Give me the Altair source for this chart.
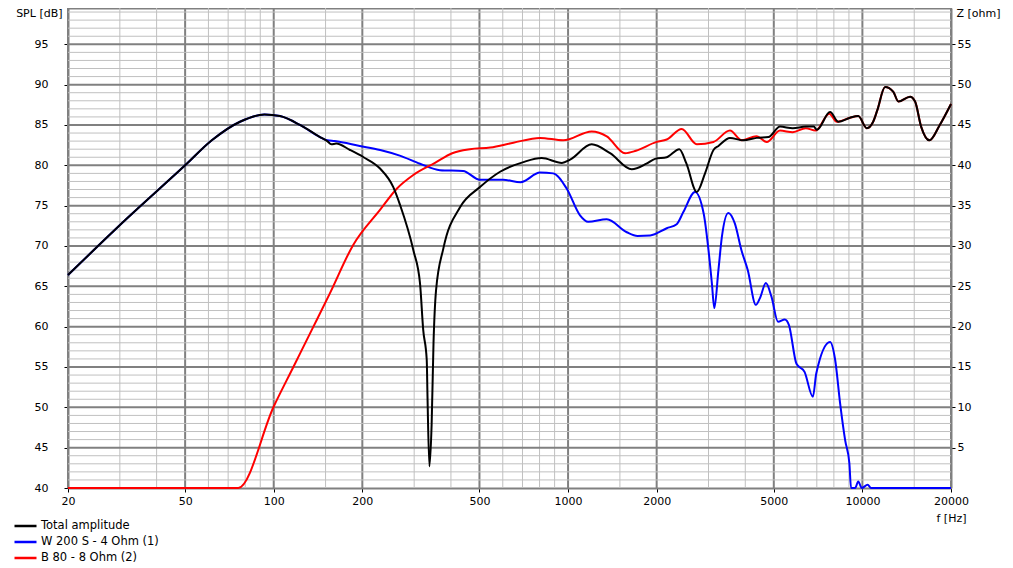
import altair as alt
import pandas as pd

# series names / colours
names = ['Total amplitude', 'W 200 S - 4 Ohm (1)', 'B 80 - 8 Ohm (2)']
colors = ['#000000', '#0000ff', '#ff0000']

# Total amplitude (black)
freq_total = [20, 31.7, 50, 61.6, 76.8, 93, 105, 122.8, 143.6, 152,
              157, 163, 181.6, 202, 229.7, 254.8, 268.6, 298, 314, 322,
              331, 333, 338, 344, 349, 356, 377, 429.5, 502, 587.5,
              705, 814, 953, 1016, 1203, 1389, 1646, 1847, 1975, 2164,
              2388, 2525, 2737, 2920, 3119, 3242, 3548, 3941, 4367, 4795,
              5250, 5800, 6420, 6840, 7000, 7765, 8290, 9075, 9680, 10350,
              10880, 11230, 11940, 12740, 13250, 14520, 15100, 15830, 16890, 18320,
              20000]
spl_total = [66.4, 73.4, 80.0, 83.1, 85.4, 86.3, 86.1, 85.0, 83.5, 83.0,
             82.6, 82.7, 81.9, 81.0, 79.6, 77.3, 75.1, 69.5, 65.4, 59.6,
             55.9, 51.3, 42.7, 48.0, 57.9, 64.5, 69.7, 74.8, 77.3, 79.2,
             80.4, 80.9, 80.3, 80.7, 82.6, 81.5, 79.5, 80.2, 80.8, 81.0,
             82.0, 80.2, 76.7, 79.0, 81.9, 82.4, 83.4, 83.1, 83.4, 83.5,
             84.8, 84.6, 84.8, 84.8, 84.4, 86.6, 85.4, 85.9, 86.1, 84.6,
             85.4, 86.8, 89.7, 89.1, 87.9, 88.5, 87.9, 84.8, 83.1, 85.0,
             87.6]

# woofer W 200 S (blue)
freq_woofer = [20, 31.7, 50, 61.6, 76.8, 93, 105, 122.8, 143.6, 152,
               161, 196, 230, 268, 314, 367, 440, 502, 601, 690,
               803, 890, 990, 1098, 1170, 1354, 1583, 1722, 1900, 2164,
               2339, 2464, 2700, 2890, 3000, 3080, 3140, 3242, 3330, 3503,
               3686, 3880, 4080, 4345, 4483, 4700, 4910, 5170, 5450, 5630,
               5970, 6360, 6790, 6970, 7765, 8080, 8400, 8740, 9030, 9150,
               9450, 9680, 9950, 10420, 10700, 20000]
spl_woofer = [66.4, 73.4, 80.0, 83.1, 85.4, 86.3, 86.1, 85.0, 83.5, 83.1,
              83.0, 82.4, 81.9, 81.2, 80.2, 79.4, 79.3, 78.2, 78.2, 77.9,
              79.1, 79.0, 77.1, 73.8, 73.0, 73.3, 71.7, 71.25, 71.3, 72.2,
              72.7, 74.2, 76.7, 74.0, 69.5, 65.4, 62.3, 67.0, 71.1, 74.1,
              72.8, 69.5, 67.0, 62.7, 63.5, 65.4, 63.7, 60.6, 60.9, 60.2,
              55.4, 54.4, 51.3, 54.2, 58.1, 55.9, 50.5, 45.9, 43.1, 40.0,
              40.0, 40.8, 40.0, 40.4, 40.0, 40.0]

# tweeter B 80 (red)
freq_tweeter = [20, 75.8, 100, 116.6, 136.4, 155, 186, 230, 261.8, 298,
                353, 404, 464, 544, 652, 803, 963, 1203, 1354, 1562,
                1700, 2000, 2164, 2433, 2737, 3119, 3548, 3890, 4367, 4730,
                5250, 5800, 6420, 6930, 7720, 8180, 9075, 9680, 10350, 10880,
                11230, 11940, 12740, 13250, 14520, 15100, 15830, 16890, 18320, 20000]
spl_tweeter = [40.0, 40.0, 50.1, 55.0, 60.0, 64.1, 70.1, 74.5, 77.1, 78.8,
               80.3, 81.5, 82.0, 82.2, 82.8, 83.4, 83.1, 84.2, 83.6, 81.5,
               81.8, 82.9, 83.2, 84.5, 82.6, 82.9, 84.3, 83.1, 83.6, 82.9,
               84.3, 84.1, 84.6, 84.3, 86.4, 85.4, 85.9, 86.1, 84.6, 85.4,
               86.8, 89.7, 89.1, 87.9, 88.5, 87.9, 84.8, 83.1, 85.0, 87.6]

# axis ticks and grid
major_f = [20, 50, 100, 200, 500, 1000, 2000, 5000, 10000, 20000]
minor_f = [30, 40, 60, 70, 80, 90, 150, 300, 400, 600, 700, 800, 900,
           1500, 3000, 4000, 6000, 7000, 8000, 9000, 15000]
spl_ticks = [40, 45, 50, 55, 60, 65, 70, 75, 80, 85, 90, 95]
spl_minor = [v for v in range(41, 100) if v % 5 != 0]
spl_major = [45, 50, 55, 60, 65, 70, 75, 80, 85, 90, 95]
z_ticks = [5, 10, 15, 20, 25, 30, 35, 40, 45, 50, 55]

df = pd.concat([
    pd.DataFrame({'series': names[0], 'freq': freq_total, 'spl': spl_total}),
    pd.DataFrame({'series': names[1], 'freq': freq_woofer, 'spl': spl_woofer}),
    pd.DataFrame({'series': names[2], 'freq': freq_tweeter, 'spl': spl_tweeter}),
])

W, H = 883, 480
x_scale = alt.Scale(type='log', domain=[20, 20000], nice=False)
y_scale = alt.Scale(domain=[40, 99.5], nice=False, zero=False)

x_axis = alt.Axis(values=major_f, format='d', title='f [Hz]', grid=False,
                  labelFlush=False, tickSize=4, labelPadding=3,
                  titleX=W, titleY=30, titleAlign='center', titleBaseline='middle')
y_axis = alt.Axis(values=spl_ticks, title='SPL [dB]', grid=False,
                  tickSize=4, labelPadding=16,
                  titleAngle=0, titleX=-6, titleY=5,
                  titleAlign='right', titleBaseline='middle')
z_axis = alt.Axis(orient='right', values=z_ticks, title='Z [ohm]', grid=False,
                  tickSize=4, labelPadding=2,
                  titleAngle=0, titleX=5, titleY=5,
                  titleAlign='left', titleBaseline='middle')
top_axis = alt.Axis(orient='top', labels=False, ticks=False, title=None, grid=False)

legend = alt.Legend(orient='none', legendX=-55, legendY=510, title=None,
                    symbolType='stroke', symbolSize=484, symbolStrokeWidth=2.5,
                    labelOffset=3, rowPadding=0, clipHeight=16, padding=0,
                    direction='vertical')
color = alt.Color('series:N', scale=alt.Scale(domain=names, range=colors), legend=legend)

# grid lines
vminor = alt.Chart(pd.DataFrame({'freq': minor_f})).mark_rule(
    color='#c0c0c0', strokeWidth=1).encode(
    x=alt.X('freq:Q', scale=x_scale, axis=x_axis))
vmajor = alt.Chart(pd.DataFrame({'freq': major_f})).mark_rule(
    color='#808080', strokeWidth=2).encode(
    x=alt.X('freq:Q', scale=x_scale, axis=x_axis))
hminor = alt.Chart(pd.DataFrame({'spl': spl_minor})).mark_rule(
    color='#c0c0c0', strokeWidth=1).encode(
    y=alt.Y('spl:Q', scale=y_scale, axis=y_axis))
hmajor = alt.Chart(pd.DataFrame({'spl': spl_major})).mark_rule(
    color='#808080', strokeWidth=2).encode(
    y=alt.Y('spl:Q', scale=y_scale, axis=y_axis))

# curves, black drawn last
def curve(name):
    return alt.Chart(df).transform_filter(
        alt.datum.series == name
    ).mark_line(strokeWidth=2, interpolate='monotone').encode(
        x=alt.X('freq:Q', scale=x_scale, axis=x_axis),
        y=alt.Y('spl:Q', scale=y_scale, axis=y_axis),
        color=color,
    )

main = alt.layer(vminor, vmajor, hminor, hmajor,
                 curve(names[1]), curve(names[2]), curve(names[0]))

# right impedance axis (and the top border line)
z_layer = alt.Chart(pd.DataFrame({'freq': [20, 20000], 'z': [0, 59.5]})).mark_point(
    opacity=0).encode(
    x=alt.X('freq:Q', scale=x_scale, axis=top_axis),
    y=alt.Y('z:Q', scale=alt.Scale(domain=[0, 59.5], nice=False), axis=z_axis))

chart = alt.layer(main, z_layer).resolve_scale(x='independent', y='independent').properties(
    width=W, height=H,
    autosize=alt.AutoSizeParams(type='none'),
    padding={'left': 60, 'top': 0, 'right': 54, 'bottom': 80},
    background='white',
).configure_view(
    stroke=None
).configure_axis(
    labelFont='DejaVu Sans', titleFont='DejaVu Sans',
    labelFontSize=11, titleFontSize=11, titleFontWeight='normal',
    labelColor='black', titleColor='black', tickColor='black',
    domainColor='#808080', domainWidth=2,
).configure_legend(
    labelFont='DejaVu Sans', labelFontSize=11.5, labelColor='black',
)

chart.save("out.html", embed_options={"renderer": "svg", "actions": False})
